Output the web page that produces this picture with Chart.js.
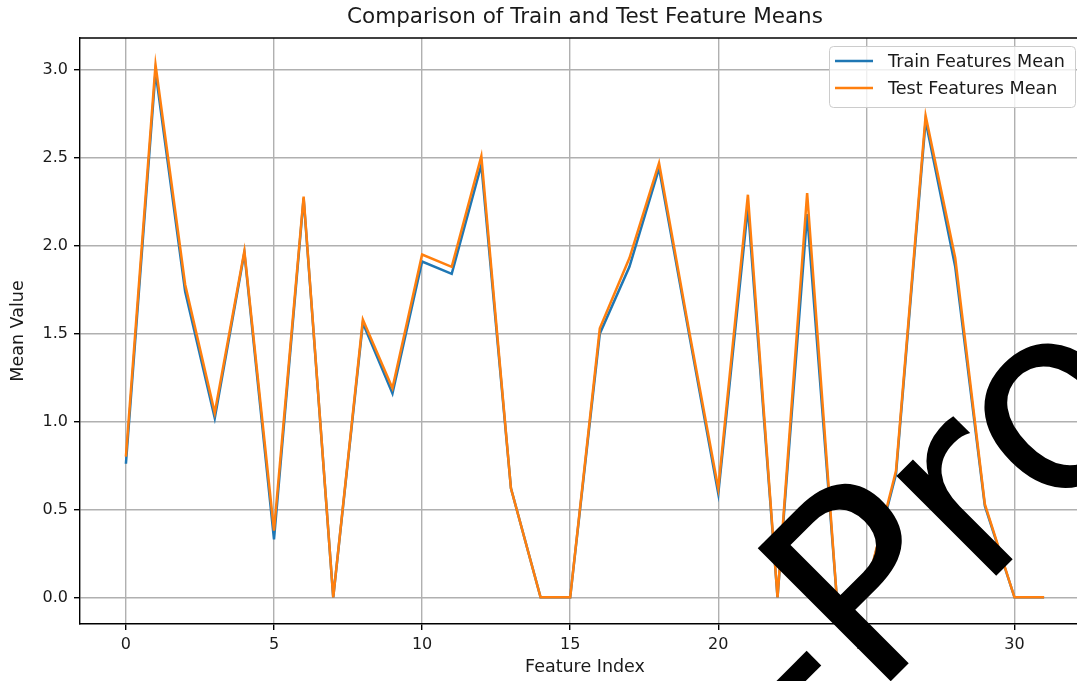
<!DOCTYPE html>
<html>
<head>
<meta charset="utf-8">
<script src="https://cdn.jsdelivr.net/npm/chart.js@4.4.1/dist/chart.umd.min.js"></script>
<style>
  html, body { margin: 0; padding: 0; background: #fff; overflow: hidden; }
  #wrap { position: relative; width: 1090px; height: 681px; }
</style>
</head>
<body>
<div id="wrap"><canvas id="chart"></canvas></div>
<script>
// Feature indices and per-feature mean values
const featureIndex = [0, 1, 2, 3, 4, 5, 6, 7, 8, 9, 10, 11, 12, 13, 14, 15,
                      16, 17, 18, 19, 20, 21, 22, 23, 24, 25, 26, 27, 28, 29, 30, 31];
const trainMean = [0.76, 2.99, 1.74, 1.02, 1.96, 0.33, 2.27, 0.00, 1.56, 1.16, 1.91, 1.84, 2.46, 0.62, 0.00, 0.00,
                   1.50, 1.88, 2.44, 1.51, 0.59, 2.22, 0.00, 2.18, 0.00, 0.05, 0.70, 2.71, 1.88, 0.52, 0.00, 0.00];
const testMean  = [0.80, 3.03, 1.78, 1.05, 1.97, 0.38, 2.28, 0.00, 1.58, 1.19, 1.95, 1.88, 2.51, 0.62, 0.00, 0.00,
                   1.53, 1.93, 2.47, 1.53, 0.62, 2.29, 0.00, 2.30, 0.00, 0.05, 0.72, 2.74, 1.93, 0.53, 0.00, 0.00];
const xTicks = [0, 5, 10, 15, 20, 25, 30];
const yTicks = [0.0, 0.5, 1.0, 1.5, 2.0, 2.5, 3.0];
const seriesNames = ['Train Features Mean', 'Test Features Mean'];
const titleText = 'Comparison of Train and Test Feature Means';

const FONT = '"DejaVu Sans", "Liberation Sans", sans-serif';
const INK = '#1a1a1a';

const toPoints = vals => vals.map((v, i) => ({ x: featureIndex[i], y: v }));

// Top spine of the axes box
const frameTop = {
  id: 'frameTop',
  afterDatasetsDraw(chart) {
    const { ctx, chartArea: a } = chart;
    ctx.save();
    ctx.strokeStyle = '#000';
    ctx.lineWidth = 1.4;
    ctx.beginPath();
    ctx.moveTo(a.left, a.top);
    ctx.lineTo(a.right, a.top);
    ctx.stroke();
    ctx.restore();
  }
};

// Legend box in the upper-right corner of the axes
const cornerLegend = {
  id: 'cornerLegend',
  afterDraw(chart) {
    const { ctx } = chart;
    const x = 829, y = 46, w = 246, h = 61, r = 4;
    ctx.save();
    ctx.fillStyle = 'rgba(255,255,255,0.8)';
    ctx.strokeStyle = '#cccccc';
    ctx.lineWidth = 1;
    ctx.beginPath();
    ctx.roundRect(x + 0.5, y + 0.5, w, h, r);
    ctx.fill();
    ctx.stroke();
    ctx.font = '17.6px ' + FONT;
    ctx.textBaseline = 'middle';
    ctx.textAlign = 'left';
    chart.data.datasets.forEach((ds, i) => {
      const ly = 61 + i * 27;
      ctx.strokeStyle = ds.borderColor;
      ctx.lineWidth = 2.5;
      ctx.beginPath();
      ctx.moveTo(835, ly);
      ctx.lineTo(873, ly);
      ctx.stroke();
      ctx.fillStyle = INK;
      ctx.fillText(ds.label, 888, ly + 1);
    });
    ctx.restore();
  }
};

// Large rotated overlay lettering
const overlayText = {
  id: 'overlayText',
  afterDraw(chart) {
    const { ctx } = chart;
    ctx.save();
    ctx.translate(807, 765);
    ctx.rotate(-Math.PI / 4);
    ctx.font = '258px "DejaVu Sans", sans-serif';
    ctx.fillStyle = '#000';
    ctx.textBaseline = 'alphabetic';
    ctx.textAlign = 'left';
    ctx.fillText('-Pro', 0, 0);
    ctx.restore();
  }
};

new Chart(document.getElementById('chart'), {
  type: 'line',
  data: {
    datasets: [
      { label: seriesNames[0], data: toPoints(trainMean), borderColor: '#1f77b4',
        backgroundColor: '#1f77b4', borderWidth: 2.5, pointRadius: 0, tension: 0, order: 2 },
      { label: seriesNames[1], data: toPoints(testMean), borderColor: '#ff7f0e',
        backgroundColor: '#ff7f0e', borderWidth: 2.5, pointRadius: 0, tension: 0, order: 1 }
    ]
  },
  options: {
    responsive: true,
    maintainAspectRatio: false,
    animation: false,
    devicePixelRatio: 1,
    layout: { padding: 0 },
    plugins: {
      legend: { display: false },
      tooltip: { enabled: false },
      title: {
        display: true,
        fullSize: false,
        text: titleText,
        color: INK,
        font: { family: FONT, size: 21.5, weight: 'normal', lineHeight: 1.2 },
        padding: { top: 5, bottom: 7.2 }
      }
    },
    scales: {
      x: {
        type: 'linear',
        min: -1.55,
        max: 32.55,
        afterBuildTicks: s => { s.ticks = xTicks.map(v => ({ value: v })); },
        afterFit: s => { s.height = 57; },
        grid: { color: '#b0b0b0', lineWidth: 1.4, drawTicks: true, tickLength: 6,
                tickColor: '#000', tickWidth: 1.4 },
        border: { color: '#000', width: 1.4 },
        ticks: { color: INK, font: { family: FONT, size: 16 }, padding: 5, maxRotation: 0,
                 callback: v => String(v) },
        title: { display: true, text: 'Feature Index', color: INK,
                 font: { family: FONT, size: 17.5, lineHeight: 1.2 }, padding: { top: 0, bottom: 3 } }
      },
      y: {
        type: 'linear',
        min: -0.1515,
        max: 3.1815,
        afterBuildTicks: s => { s.ticks = yTicks.map(v => ({ value: v })); },
        afterFit: s => { s.width = 80; },
        grid: { color: '#b0b0b0', lineWidth: 1.4, drawTicks: true, tickLength: 6,
                tickColor: '#000', tickWidth: 1.4 },
        border: { color: '#000', width: 1.4 },
        ticks: { color: INK, font: { family: FONT, size: 16 }, padding: 6,
                 callback: v => Number(v).toFixed(1) },
        title: { display: true, text: 'Mean Value', color: INK,
                 font: { family: FONT, size: 17.5, lineHeight: 1.2 }, padding: { top: 8, bottom: 0 } }
      }
    }
  },
  plugins: [frameTop, cornerLegend, overlayText]
});
</script>
</body>
</html>
